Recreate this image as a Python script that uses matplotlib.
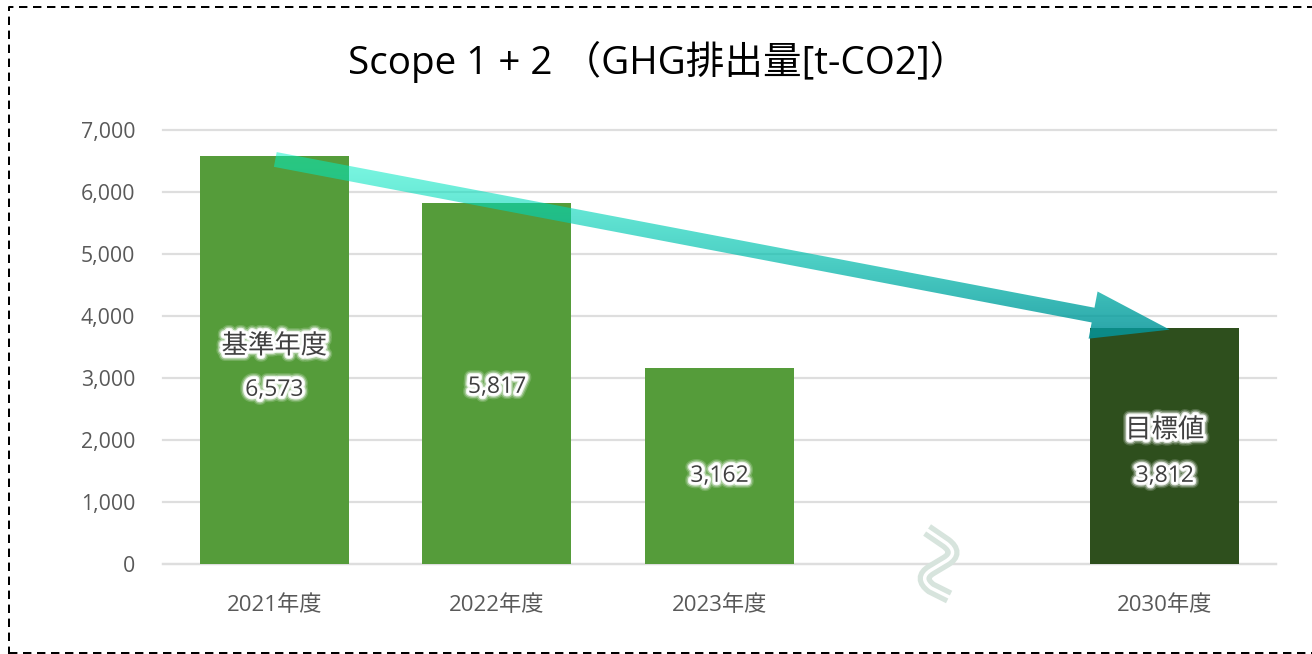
import numpy as np
import matplotlib
matplotlib.use('Agg')
import matplotlib.pyplot as plt
import matplotlib.patheffects as pe
from matplotlib.path import Path
from matplotlib.patches import PathPatch, Polygon

# Data
categories = ['2021年度', '2022年度', '2023年度', '', '2030年度']
values = [6573, 5817, 3162, None, 3812]
value_labels = ['6,573', '5,817', '3,162', '', '3,812']
yticks = [0, 1000, 2000, 3000, 4000, 5000, 6000, 7000]
bar_colors = ['#559c3a', '#559c3a', '#559c3a', '#559c3a', '#2e4f1d']

# y position of the labels inside the bars
value_label_y = [2810, 2857, 1422, None, 1422]
notes = {0: ('基準年度', 3518), 4: ('目標値', 2164)}

FONT = ['Open Sans', 'Noto Sans CJK JP', 'DejaVu Sans']
CJK = ['Noto Sans CJK JP', 'DejaVu Sans']
W, H = 1312, 654

fig = plt.figure(figsize=(W / 100, H / 100), dpi=100, facecolor='white')
ax = fig.add_axes([163 / W, 1 - 564 / H, (1276 - 163) / W, (564 - 130) / H])

x = np.arange(len(categories))
for i, v in enumerate(values):
    if v is not None:
        ax.bar(x[i], v, width=0.67, color=bar_colors[i], zorder=3)

ax.set_xlim(-0.5, 4.5)
ax.set_ylim(0, 7000)
ax.set_yticks(yticks)
ax.set_yticklabels([f'{t:,}' for t in yticks], family=FONT, fontsize=15.3, color='#595959')
ax.set_xticks(x)
ax.set_xticklabels(categories, family=FONT, fontsize=16, color='#595959')
ax.tick_params(axis='y', length=0, pad=20)
ax.tick_params(axis='x', length=0, pad=22)
ax.grid(axis='y', color='#dedede', lw=1.6, zorder=1, clip_on=False)
ax.set_axisbelow(True)
for s in ax.spines.values():
    s.set_visible(False)
ax.plot([-0.5, 4.5], [0, 0], color='#dedede', lw=1.6, zorder=2, clip_on=False)


def glow():
    # soft white halo behind the label text
    return [pe.withStroke(linewidth=9, foreground='white', alpha=0.18),
            pe.withStroke(linewidth=7, foreground='white', alpha=0.35),
            pe.withStroke(linewidth=5, foreground='white', alpha=0.8),
            pe.withStroke(linewidth=3.5, foreground='white')]


for i, lab in enumerate(value_labels):
    if lab:
        ax.text(x[i], value_label_y[i], lab, ha='center', va='center', family=FONT,
                fontsize=16.5, color='#404040', zorder=6, path_effects=glow())
for i, (lab, y) in notes.items():
    ax.text(x[i], y, lab, ha='center', va='center', family=CJK,
            fontsize=19, color='#404040', zorder=6, path_effects=glow())

# Overlay in image pixels for the arrow and the frame
ov = fig.add_axes([0, 0, 1, 1], zorder=5)
ov.set_xlim(0, W)
ov.set_ylim(H, 0)
ov.axis('off')
ov.patch.set_alpha(0)


def to_pixels(px, py):
    dx, dy = ax.transData.transform((px, py))
    return np.array([dx, H - dy])


# Trend arrow from the base year bar to the target bar
start = to_pixels(0, values[0]) + np.array([1, 3])
tip = to_pixels(4, values[4]) + np.array([5, 2])
d = (tip - start) / np.linalg.norm(tip - start)
n = np.array([-d[1], d[0]])
neck = tip - d * 78
shaft, head = 7.5, 24
arrow_pts = [start - n * shaft, neck - n * shaft, neck - n * head, tip,
             neck + n * head, neck + n * shaft, start + n * shaft]
top, bottom = 150, 342

grad = np.zeros((256, 2, 4))
t = np.linspace(0, 1, 256)
c0, c1 = np.array([0, 245, 200]) / 255, np.array([6, 145, 152]) / 255
for k in range(3):
    grad[:, :, k] = (c0[k] + (c1[k] - c0[k]) * t)[:, None]
grad[:, :, 3] = (0.5 + 0.37 * t)[:, None]
img = ov.imshow(grad, extent=(250, 1190, bottom, top), aspect='auto', interpolation='bilinear')
ov.set_xlim(0, W)
ov.set_ylim(H, 0)
clip = Polygon(arrow_pts, closed=True, transform=ov.transData, fc='none', ec='none')
ov.add_patch(clip)
img.set_clip_path(clip)

# Axis break mark on the empty category
bx, by = to_pixels(3, 0)
codes = [Path.MOVETO, Path.LINETO, Path.CURVE3, Path.CURVE3, Path.LINETO,
         Path.CURVE3, Path.CURVE3, Path.LINETO]
brk = np.array([[-15, -34], [4, -21], [17, -11], [4, -3], [-11, 6],
                [-24, 14], [-11, 24], [7, 33]]) + np.array([bx, by])
ov.add_patch(PathPatch(Path(brk, codes), fc='none', ec='#d7e4dd', lw=10, capstyle='butt'))
ov.add_patch(PathPatch(Path(brk, codes), fc='none', ec='white', lw=2.5, capstyle='projecting'))

# Dashed frame
ov.plot([9, 9, W + 5], [H + 5, 6.5, 6.5], color='black', lw=1.44, dashes=(4.2, 2.8))
ov.plot([9, W + 5], [652.5, 652.5], color='black', lw=1.44, dashes=(4.2, 2.8))

fig.text(658 / W, 1 - 62 / H, 'Scope 1 + 2 （GHG排出量[t-CO2]）', ha='center', va='center',
         family=FONT, fontsize=27.8, color='black')

fig.savefig('out.png', dpi=100)
